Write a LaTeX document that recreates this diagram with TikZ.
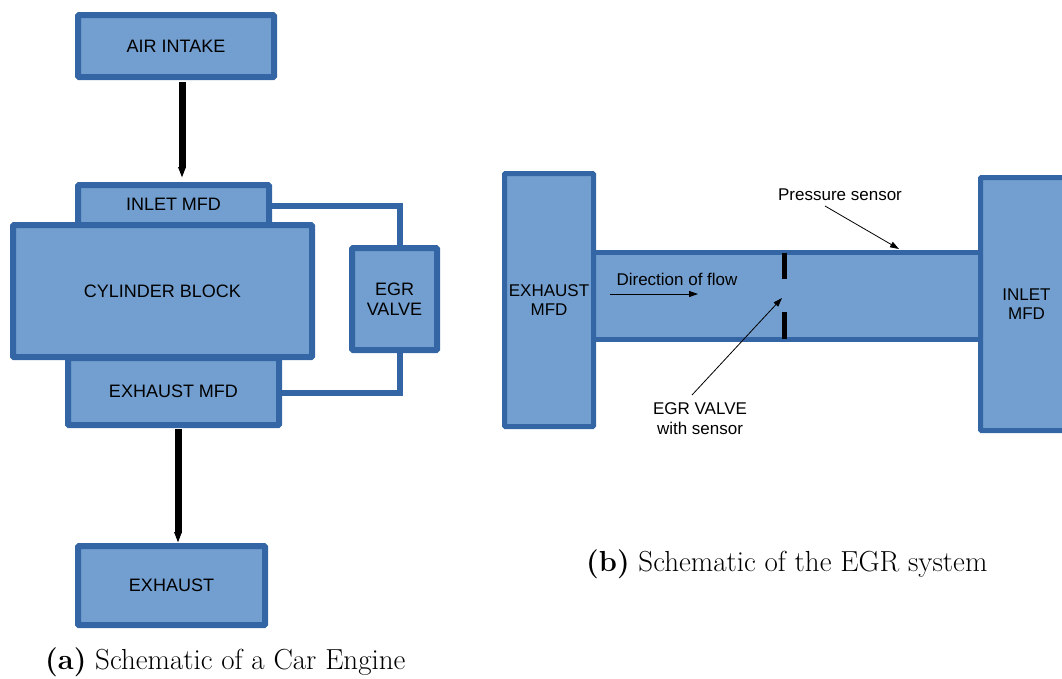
\documentclass[tikz,border=0pt]{standalone}
\usepackage{fontspec}
\setsansfont{Liberation Sans}
\usetikzlibrary{arrows.meta}
\definecolor{boxfill}{HTML}{729FCF}
\definecolor{boxline}{HTML}{3465A4}
\tikzset{
  blk/.style={draw=boxline, fill=boxfill, line width=6pt, rounded corners=1pt, inner sep=0pt,
    font=\sffamily\fontsize{18}{20}\selectfont, align=center},
  blkr/.style={blk, line width=5pt, font=\sffamily\fontsize{17}{19}\selectfont},
  pipeline/.style={draw=boxline, line width=6pt},
  flowarrow/.style={line width=7pt, -{Triangle[length=11pt,width=7pt]}},
  thinarrow/.style={line width=0.8pt, -{Triangle[length=9pt,width=6pt]}},
  lbl/.style={font=\sffamily\fontsize{17}{20}\selectfont, align=center, inner sep=0pt},
  valvebar/.style={line width=5pt, black},
  captext/.style={font=\fontsize{29}{32}\selectfont, inner sep=0pt, anchor=base west}
}
\begin{document}
\begin{tikzpicture}[x=1pt,y=-1pt]
\useasboundingbox (0,0) rectangle (1062,678);
% ---- (a) car engine ----
\node[blk, minimum width=196, minimum height=62] (air) at (176,46) {AIR INTAKE};
\node[blk, minimum width=191, minimum height=40] (inlet) at (173.5,205) {};
\node[blk, minimum width=211, minimum height=67] (exmfd) at (173.5,391.5) {EXHAUST MFD};
\node[blk, minimum width=299, minimum height=132] (cyl) at (162.5,291) {CYLINDER BLOCK};
\node[lbl, font=\sffamily\fontsize{18}{20}\selectfont] (inlettxt) at (173.5,204) {INLET MFD};
\node[blk, minimum width=85, minimum height=102] (egr) at (394.5,299) {EGR\\VALVE};
\node[blk, minimum width=187, minimum height=79] (exh) at (171.5,585.5) {EXHAUST};
\draw[pipeline] ([yshift=-1]inlet.east) -| ([xshift=5.5]egr.north);
\draw[pipeline] ([xshift=5.5]egr.south) |- ([yshift=-1.5]exmfd.east);
\draw[flowarrow, shorten <=2pt, shorten >=4pt] ([xshift=6]air.south) -- ([xshift=8.5]inlet.north);
\draw[flowarrow, shorten <=1pt] ([xshift=4.5]exmfd.south) -- ([xshift=6.5]exh.north);
\node[captext] (capa) at (45,669) {\textbf{(a)} Schematic of a Car Engine};
% ---- (b) EGR system ----
\node[draw=boxline, fill=boxfill, line width=5pt, minimum width=400, minimum height=87, inner sep=0pt] (pipe) at (787,296) {};
\node[blkr, minimum width=89, minimum height=253] (exr) at (549,300) {EXHAUST\\MFD};
\node[blkr, minimum width=92, minimum height=253, text width=92] (inr) at (1026.5,304) {INLET\\MFD};
\coordinate (v1a) at (784,253);
\coordinate (v1b) at (784,279);
\coordinate (v2a) at (784,312);
\coordinate (v2b) at (784,339);
\draw[valvebar] (v1a) -- (v1b);
\draw[valvebar] (v2a) -- (v2b);
\node[lbl] (dir) at (677,279) {Direction of flow};
\coordinate (f1) at (610,294);
\coordinate (f2) at (698,294);
\draw[thinarrow] (f1) -- (f2);
\node[lbl] (egrlbl) at (700,419) {EGR VALVE\\with sensor};
\coordinate (e1) at (692,395);
\coordinate (e2) at (782,298);
\draw[thinarrow] (e1) -- (e2);
\node[lbl] (plbl) at (840,195) {Pressure sensor};
\coordinate (p1) at (825,206);
\coordinate (p2) at (899,249);
\draw[thinarrow] (p1) -- (p2);
\node[captext] (capb) at (586,571) {\textbf{(b)} Schematic of the EGR system};
\end{tikzpicture}
\end{document}
